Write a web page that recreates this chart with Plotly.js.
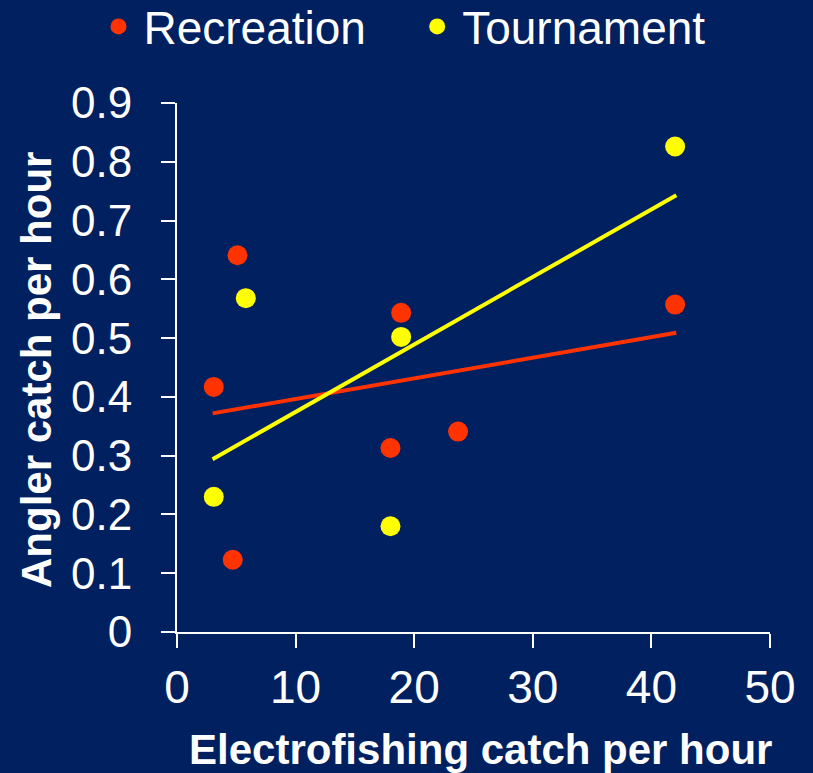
<!DOCTYPE html>
<html>
<head>
<meta charset="utf-8">
<script src="https://cdn.plot.ly/plotly-3.0.1.min.js"></script>
<style>html,body{margin:0;padding:0;background:#002060;}</style>
</head>
<body>
<div id="chart" style="width:813px;height:773px;"></div>
<script>
// Recreation series
const recX = [3.1, 5.1, 4.7, 18.9, 18.0, 23.7, 42.0];
const recY = [0.417, 0.641, 0.123, 0.543, 0.313, 0.341, 0.557];
// Tournament series
const tourX = [3.1, 5.8, 18.9, 18.0, 42.0];
const tourY = [0.230, 0.568, 0.502, 0.180, 0.826];
// Trend line endpoints
const recTrendX = [3.0, 42.1];
const recTrendY = [0.372, 0.509];
const tourTrendX = [3.0, 42.1];
const tourTrendY = [0.294, 0.743];
// Axis ticks
const xTicks = [0, 10, 20, 30, 40, 50];
const yTicks = [0, 0.1, 0.2, 0.3, 0.4, 0.5, 0.6, 0.7, 0.8, 0.9];
const yTickText = ['0', '0.1', '0.2', '0.3', '0.4', '0.5', '0.6', '0.7', '0.8', '0.9'];
const xTitle = 'Electrofishing catch per hour';
const yTitle = 'Angler catch per hour';

const RED = '#ff3300', YEL = '#ffff00', BG = '#002060';

const data = [
  {x: recTrendX, y: recTrendY, mode: 'lines', line: {color: RED, width: 4}, showlegend: false, hoverinfo: 'skip'},
  {x: tourTrendX, y: tourTrendY, mode: 'lines', line: {color: YEL, width: 4}, showlegend: false, hoverinfo: 'skip'},
  {x: recX, y: recY, mode: 'markers', name: 'Recreation', marker: {color: RED, size: 20}, legend: 'legend'},
  {x: tourX, y: tourY, mode: 'markers', name: 'Tournament', marker: {color: YEL, size: 20}, legend: 'legend2'}
];

const legendCommon = {
  orientation: 'h', xanchor: 'left', xref: 'container',
  y: 1.2136, yref: 'paper', yanchor: 'top',
  font: {size: 46, color: '#ffffff'},
  bgcolor: 'rgba(0,0,0,0)', itemsizing: 'trace', itemwidth: 40
};

const layout = {
  width: 813, height: 773,
  paper_bgcolor: BG, plot_bgcolor: BG,
  font: {family: 'Liberation Sans, Arial, sans-serif', color: '#ffffff'},
  margin: {l: 177, r: 43, t: 103, b: 141, pad: 0, autoexpand: false},
  showlegend: true,
  legend: Object.assign({}, legendCommon, {x: 0.115}),
  legend2: Object.assign({}, legendCommon, {x: 0.507}),
  xaxis: {
    range: [0, 50], tickvals: xTicks, ticktext: xTicks.map(String),
    showgrid: false, zeroline: false,
    showline: true, linecolor: '#ffffff', linewidth: 2,
    ticks: 'outside', ticklen: 14, tickwidth: 2, tickcolor: '#ffffff',
    tickfont: {size: 46, color: '#ffffff'}, ticklabelstandoff: 0,
    automargin: false, fixedrange: true
  },
  yaxis: {
    range: [0, 0.9], tickvals: yTicks, ticktext: yTickText,
    showgrid: false, zeroline: false,
    showline: true, linecolor: '#ffffff', linewidth: 2,
    ticks: 'outside', ticklen: 14, tickwidth: 2, tickcolor: '#ffffff',
    tickfont: {size: 44, color: '#ffffff'}, ticklabelstandoff: 20,
    automargin: false, fixedrange: true
  },
  annotations: [
    {text: '<b>' + xTitle + '</b>', xref: 'paper', yref: 'paper', x: 0.512, y: -0.222,
     xanchor: 'center', yanchor: 'middle', showarrow: false,
     font: {size: 42, color: '#ffffff'}},
    {text: '<b>' + yTitle + '</b>', xref: 'paper', yref: 'paper', x: -0.238, y: 0.495,
     xanchor: 'center', yanchor: 'middle', showarrow: false, textangle: -90,
     font: {size: 42, color: '#ffffff'}}
  ]
};

Plotly.newPlot('chart', data, layout, {displayModeBar: false, staticPlot: true});
</script>
</body>
</html>
